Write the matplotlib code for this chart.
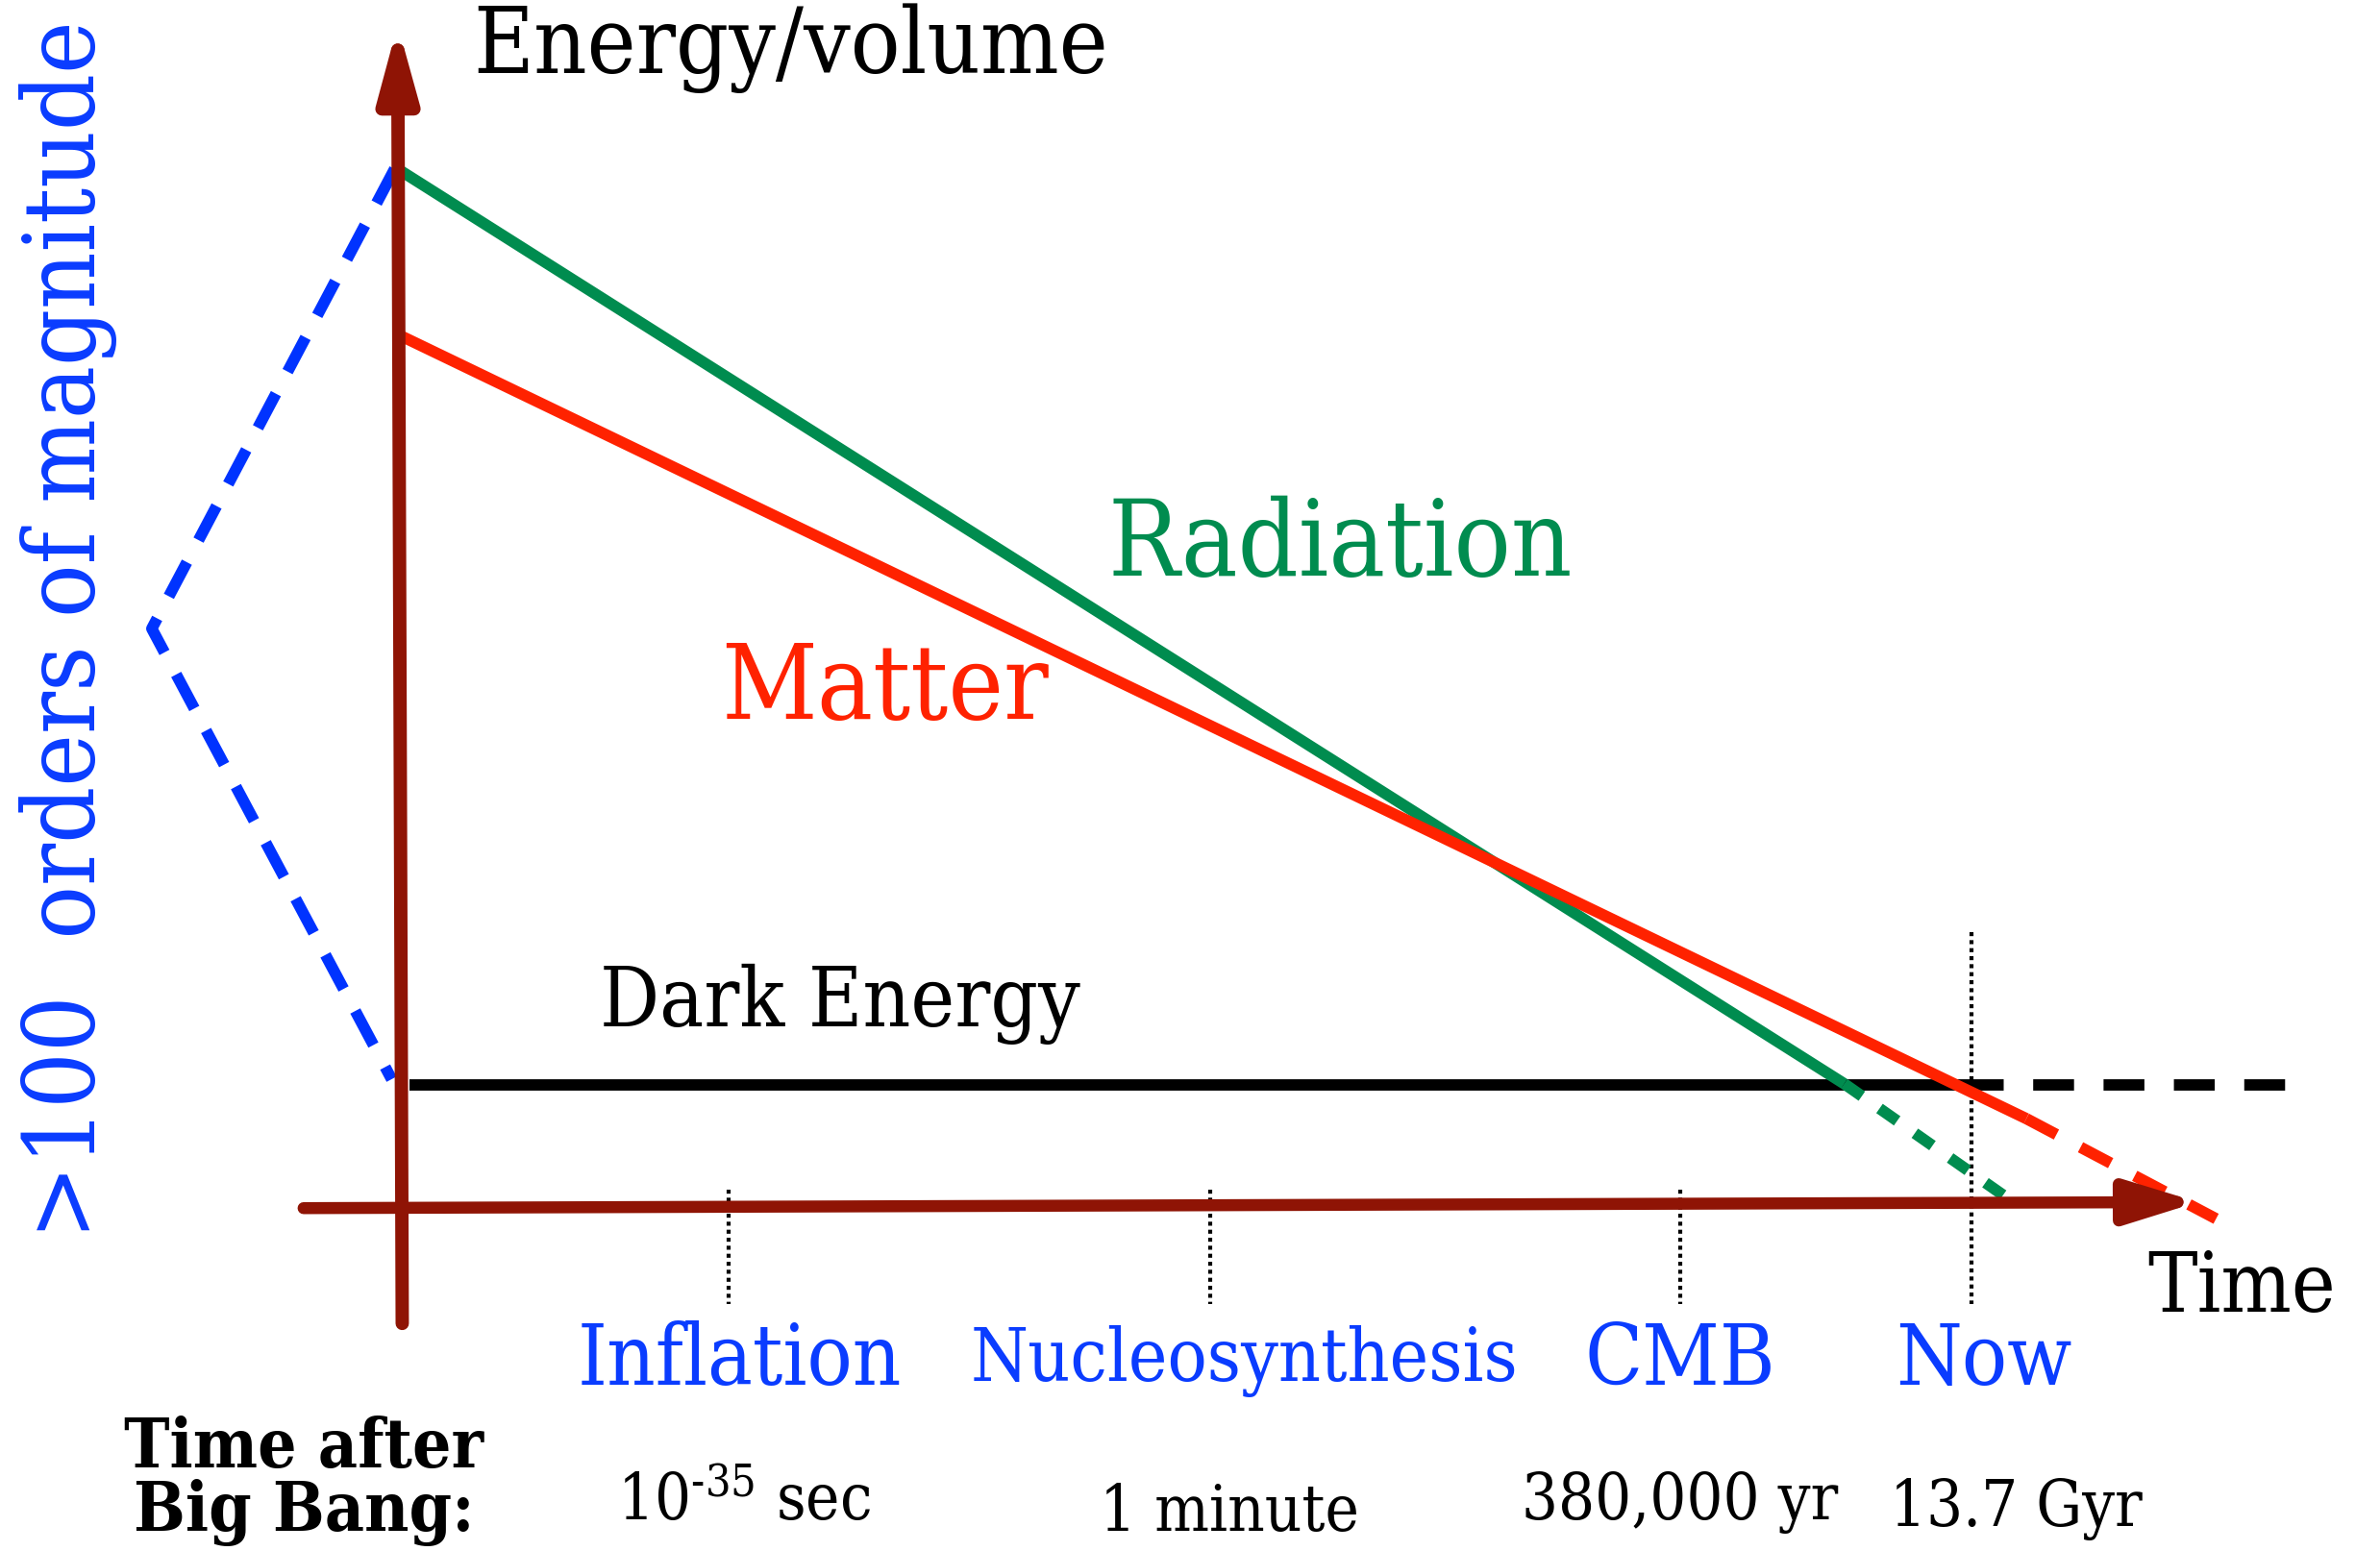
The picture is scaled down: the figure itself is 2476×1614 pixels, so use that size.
import matplotlib
matplotlib.use("Agg")
import matplotlib.pyplot as plt

plt.rcParams['font.family'] = ['DejaVu Serif']
plt.rcParams['font.stretch'] = 'condensed'
plt.rcParams['mathtext.fontset'] = 'dejavuserif'

# ---- schematic data (positions on the drawing, x to the right, y downward) ----
epochs = ["Inflation", "Nucleosynthesis", "CMB", "Now"]
epoch_x = [480, 797, 1107, 1299]
epoch_label_x = [487, 820, 1107, 1307]
epoch_label_size = [63, 55, 63, 63]
time_after = [r"10$^{\mathregular{‐35}}$ sec", "1 minute", "380,000 yr", "13.7 Gyr"]
time_after_x = [490, 810, 1107, 1328]
time_after_y = [990, 997, 990, 995]

radiation_x = [262, 1215]
radiation_y = [112, 715]
radiation_future_x = [1215, 1322]
radiation_future_y = [715, 790]

matter_x = [264, 1335]
matter_y = [222, 738]
matter_future_x = [1335, 1460]
matter_future_y = [738, 804]

dark_x = [270, 1293]
dark_y = [716, 716]
dark_future_x = [1293, 1522]
dark_future_y = [716, 716]

span_x = [260, 100, 258]
span_y = [112, 415, 712]

AXIS = "#8f1405"
GREEN = "#008c4f"
RED = "#ff2200"
BLUE = "#0033ff"
TBLUE = "#0a3cff"

fig = plt.figure(figsize=(24.76, 16.15), dpi=100)
ax = fig.add_axes([0, 0, 1, 1])
ax.set_xlim(0, 1568)
ax.set_ylim(1023, 0)
ax.axis("off")

# epoch dotted markers
for i, x in enumerate(epoch_x):
    top = 615 if epochs[i] == "Now" else 785
    ax.plot([x, x], [top, 860], color="black", lw=3, ls=(0, (1, 1)), zorder=2)

LW = 8.5
# curves
ax.plot(dark_x, dark_y, color="black", lw=LW, solid_capstyle="butt", zorder=3)
ax.plot(dark_future_x, dark_future_y, color="black", lw=LW, ls=(0, (3.6, 2.6)), zorder=3)
ax.plot(radiation_x, radiation_y, color=GREEN, lw=LW, solid_capstyle="butt", zorder=4)
ax.plot(radiation_future_x, radiation_future_y, color=GREEN, lw=LW, ls=(0, (1.9, 1.9)), zorder=4)
ax.plot(matter_x, matter_y, color=RED, lw=LW, solid_capstyle="butt", zorder=5)
ax.plot(matter_future_x, matter_future_y, color=RED, lw=LW, ls=(0, (3.0, 2.4)), zorder=5)
ax.plot(span_x, span_y, color=BLUE, lw=LW, ls=(0, (3.4, 2.2)), zorder=3)

# axes arrows
ax.annotate("", xy=(1448, 793), xytext=(200, 797),
            arrowprops=dict(arrowstyle="-|>,head_length=0.55,head_width=0.17",
                            mutation_scale=80, lw=9, color=AXIS,
                            shrinkA=0, shrinkB=0), zorder=6)
ax.annotate("", xy=(262, 17), xytext=(265, 873),
            arrowprops=dict(arrowstyle="-|>,head_length=0.55,head_width=0.15",
                            mutation_scale=80, lw=10, color=AXIS,
                            shrinkA=0, shrinkB=0), zorder=7)

# labels
ax.text(312, 32, "Energy/volume", fontsize=69, color="black", ha="left", va="center")
ax.text(1415, 850, "Time", fontsize=62, color="black", ha="left", va="center")
ax.text(730, 360, "Radiation", fontsize=79, color=GREEN, ha="left", va="center")
ax.text(475, 455, "Matter", fontsize=78, color=RED, ha="left", va="center")
ax.text(395, 662, "Dark Energy", fontsize=62, color="black", ha="left", va="center")
ax.text(45, 415, ">100  orders of magnitude", fontsize=74, color=TBLUE,
        rotation=90, ha="center", va="center")

for lab, x, fs in zip(epochs, epoch_label_x, epoch_label_size):
    ax.text(x, 897, lab, fontsize=fs, color=TBLUE, ha="center", va="center")
for lab, x, y in zip(time_after, time_after_x, time_after_y):
    ax.text(x, y, lab, fontsize=48, color="black", ha="center", va="center")

ax.text(200, 976, "Time after\nBig Bang:", fontsize=51, fontweight="bold",
        color="black", ha="center", va="center", linespacing=0.95)

fig.savefig("out.png", dpi=100)
